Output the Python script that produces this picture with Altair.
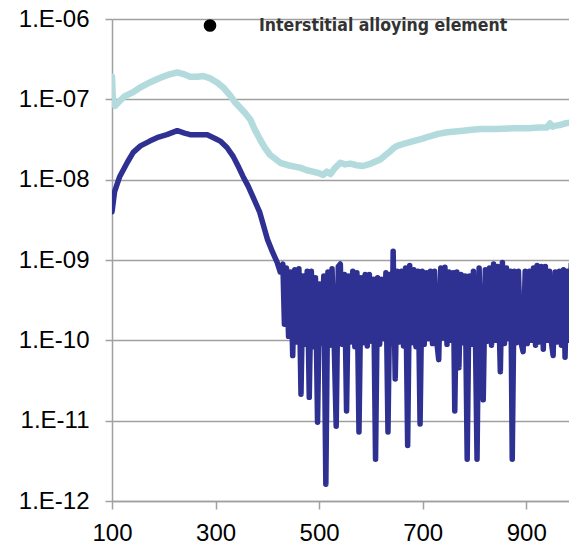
import altair as alt
import pandas as pd

# ---------------- data ----------------
x_ticks = [100, 300, 500, 700, 900]
y_ticks = [1e-12, 1e-11, 1e-10, 1e-9, 1e-8, 1e-7, 1e-6]
legend_label = "Interstitial alloying element"

# light (cyan) series: x and log10(value)
cyan_x = [100, 102, 106, 115, 125, 141, 155, 173, 190, 206, 226, 240, 251, 265,
          276, 290, 303, 316, 328, 338, 347, 357, 367, 376, 386, 395, 405, 415,
          425, 440, 455, 463, 475, 488, 500, 508, 515, 522, 530, 541, 550, 560,
          572, 585, 600, 618, 635, 645, 651, 665, 682, 700, 714, 730, 747, 763,
          778, 795, 811, 840, 875, 905, 925, 940, 946, 951, 955, 965, 975, 985,
          990, 994, 1000]
cyan_log = [-6.72, -7.05, -7.08, -7.02, -6.96, -6.91, -6.85, -6.79, -6.74, -6.70,
            -6.665, -6.69, -6.72, -6.72, -6.71, -6.74, -6.79, -6.86, -6.95, -7.04,
            -7.10, -7.17, -7.25, -7.38, -7.50, -7.60, -7.69, -7.74, -7.79, -7.82,
            -7.84, -7.85, -7.88, -7.90, -7.92, -7.94, -7.90, -7.93, -7.86, -7.79,
            -7.81, -7.80, -7.82, -7.83, -7.80, -7.75, -7.66, -7.60, -7.58, -7.55,
            -7.52, -7.49, -7.46, -7.43, -7.41, -7.40, -7.39, -7.38, -7.37, -7.37,
            -7.36, -7.36, -7.35, -7.35, -7.30, -7.34, -7.33, -7.32, -7.30, -7.29,
            -7.27, -7.50, -7.30]

# dark (navy) series: x and log10(value)
dark_x = [100, 105, 115, 130, 141, 155, 173, 190, 206, 226, 240, 251, 270, 284,
          300, 309, 322, 334, 345, 353, 363, 372, 385, 400, 410, 419, 425,
          430, 433, 437, 441, 445, 449, 453, 457, 461, 465, 469, 473, 477, 481,
          485, 489, 493, 497, 501, 505, 509, 513, 517, 521, 525, 529, 533, 537,
          541, 545, 549, 553, 557, 561, 565, 569, 573, 577, 581, 585, 589, 593,
          597, 601, 605, 609, 613, 617, 621, 625, 629, 633, 637, 641, 643, 647,
          651, 655, 659, 663, 667, 671, 675, 679, 683, 687, 691, 695, 699, 703,
          707, 711, 715, 719, 723, 727, 731, 735, 739, 743, 747, 751, 755, 759,
          762, 766, 770, 774, 778, 782, 786, 790, 794, 798, 802, 805, 809, 813,
          817, 821, 825, 829, 833, 837, 841, 845, 850, 854, 858, 862, 866, 870,
          873, 877, 881, 885, 889, 894, 898, 902, 906, 910, 914, 918, 921, 925,
          929, 933, 937, 941, 945, 949, 952, 956, 960, 964, 968, 972, 975, 979,
          983, 987, 989, 992, 995, 997, 1000]
dark_log = [-8.40, -8.15, -7.96, -7.78, -7.66, -7.58, -7.52, -7.47, -7.44, -7.39,
            -7.42, -7.44, -7.44, -7.44, -7.49, -7.52, -7.60, -7.71, -7.85, -7.96,
            -8.08, -8.21, -8.40, -8.74, -8.90, -9.03, -9.15,
            -9.05, -9.80, -9.10, -9.95, -9.15, -10.19, -9.12, -10.02, -9.11, -10.67,
            -9.20, -10.05, -9.14, -10.71, -9.14, -10.08, -9.22, -11.02, -9.30, -10.04,
            -9.20, -11.79, -9.15, -10.06, -9.11, -10.00, -11.07, -9.08, -9.05, -10.05,
            -9.18, -10.88, -9.20, -10.02, -9.14, -10.08, -9.16, -11.14, -9.22, -10.03,
            -9.18, -10.07, -9.18, -10.01, -9.24, -11.48, -9.22, -10.05, -9.24, -9.98,
            -9.16, -11.14, -9.18, -10.04, -8.89, -10.48, -9.14, -10.02, -9.14, -10.07,
            -9.10, -11.31, -9.07, -10.03, -9.12, -10.08, -9.14, -11.04, -9.14, -10.05,
            -9.16, -9.98, -9.14, -10.04, -9.14, -10.00, -10.24, -9.10, -9.97, -9.09,
            -10.05, -9.15, -10.00, -9.16, -10.88, -9.15, -10.34, -9.18, -10.03, -9.20,
            -11.48, -9.20, -10.05, -9.14, -10.00, -11.48, -9.10, -10.04, -10.74, -9.12,
            -10.01, -9.10, -10.06, -9.05, -10.00, -9.08, -10.39, -9.03, -10.04, -9.10,
            -9.98, -9.14, -11.48, -9.14, -10.03, -9.14, -10.00, -10.14, -9.14, -10.04,
            -9.14, -10.00, -9.10, -10.06, -9.07, -10.02, -9.08, -10.11, -9.08, -10.00,
            -9.14, -10.04, -10.19, -9.15, -10.02, -9.14, -10.06, -9.12, -10.21, -9.14,
            -10.00, -9.05, -9.01, -10.04, -9.15, -10.82, -9.20]

# ---------------- chart ----------------
cyan_df = pd.DataFrame({"x": cyan_x, "y": [10 ** v for v in cyan_log]})
dark_df = pd.DataFrame({"x": dark_x, "y": [10 ** v for v in dark_log]})

label_expr = ("'1.E-' + (round(-log(datum.value)/LN10) < 10 ? '0' : '') + "
              "round(-log(datum.value)/LN10)")

x_enc = alt.X("x:Q",
              scale=alt.Scale(domain=[100, 1000], nice=False, zero=False),
              axis=alt.Axis(values=x_ticks, title=None, grid=False,
                            domainColor="#a0a0a0", domainWidth=1.5,
                            tickColor="#a0a0a0", tickWidth=1.5, tickSize=8,
                            labelFont="Liberation Sans", labelFontSize=24,
                            labelColor="#000000", labelPadding=12,
                            labelFlush=False))
y_enc = alt.Y("y:Q",
              scale=alt.Scale(type="log", domain=[1e-12, 1e-6], nice=False),
              axis=alt.Axis(values=y_ticks, title=None, grid=True,
                            gridColor="#a0a0a0", gridWidth=1.5,
                            domainColor="#a0a0a0", domainWidth=1.5,
                            tickColor="#a0a0a0", tickWidth=1.5, tickSize=7,
                            labelFont="Liberation Sans", labelFontSize=24,
                            labelColor="#000000", labelPadding=16,
                            labelExpr=label_expr, labelFlush=False))

cyan_line = alt.Chart(cyan_df).mark_line(
    color="#b3dbdd", strokeWidth=6.5, strokeJoin="round", strokeCap="round",
    clip=True).encode(x=x_enc, y=y_enc)

dark_line = alt.Chart(dark_df).mark_line(
    color="#2e3192", strokeWidth=5.5, strokeJoin="round", strokeCap="round",
    clip=True).encode(x=x_enc, y=y_enc)

leg_df = pd.DataFrame({"t": [legend_label]})
leg_dot = alt.Chart(leg_df).mark_point(
    filled=True, shape="circle", color="#000000", size=160, opacity=1
).encode(x=alt.value(98), y=alt.value(6.5))
leg_text = alt.Chart(leg_df).mark_text(
    font="DejaVu Sans Condensed", fontWeight="bold", fontSize=17.5,
    color="#333333", align="left", baseline="alphabetic"
).encode(x=alt.value(147), y=alt.value(11.5), text="t:N")

chart = alt.layer(cyan_line, dark_line, leg_dot, leg_text).properties(
    width=466, height=482,
    autosize=alt.AutoSizeParams(type="none"),
    padding={"left": 104, "top": 11, "right": -9, "bottom": 46},
    background="#ffffff",
).configure_view(stroke=None)

chart.save("out.html", embed_options={"renderer": "svg", "actions": False})
